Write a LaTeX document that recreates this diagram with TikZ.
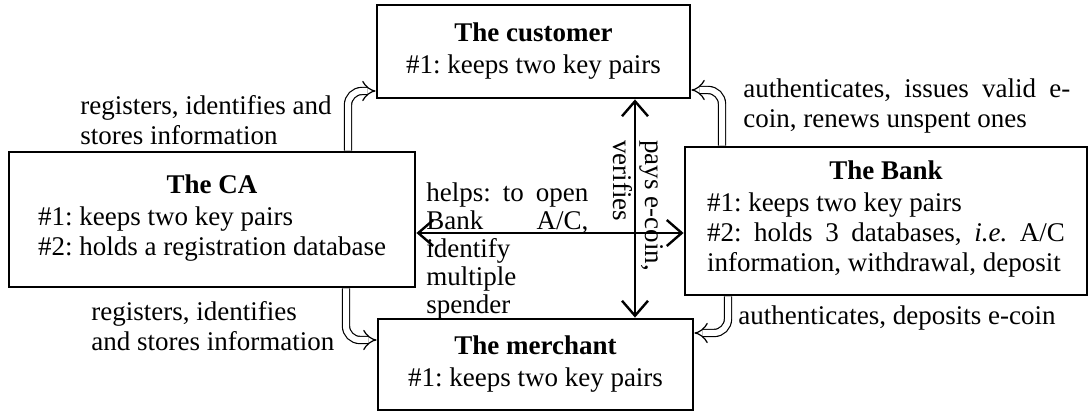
\documentclass[tikz,border=0pt]{standalone}
\usepackage{fontspec}
\setmainfont{Liberation Serif}
\frenchspacing
\usetikzlibrary{
	arrows.meta,
	calc,
	positioning
}

\tikzset{
	agent/.style={draw, line width=1.4pt, inner sep=0pt, align=center},
	regarrow/.style={double, double distance=3pt, line width=0.6pt, rounded corners=7pt, -{Implies[length=5pt,width=11pt]}},
	payarrow/.style={line width=1.2pt, {Straight Barb[length=7.5pt,width=13pt]}-{Straight Barb[length=7.5pt,width=13pt]}},
	note/.style={inner sep=0pt, align=left, anchor=base west}
}

\begin{document}
\begin{tikzpicture}[x=0.5pt,y=-0.5pt,font=\fontsize{13.5}{15}\selectfont]
		\useasboundingbox (0,0) rectangle (1089,416);
		
		% 四个参与方
		\node[agent, minimum width=156.5pt, minimum height=46.5pt] (cust) at (533.5,51.5)
			{\textbf{The customer}\\[1pt] \#1: keeps two key pairs};
		\node[agent, minimum width=203pt, minimum height=67.5pt] (ca) at (212,219.5)
			{\textbf{The CA}\\[1pt] \begin{tabular}[t]{@{}l@{}}\#1: keeps two key pairs\\ \#2: holds a registration database\end{tabular}};
		\node[agent, minimum width=201pt, minimum height=74pt] (bank) at (886,221)
			{\textbf{The Bank}\\[1pt] \begin{tabular}[t]{@{}l@{}}\#1: keeps two key pairs\\ \makebox[179pt][s]{\#2: holds 3 databases, \textit{i.e.} A/C}\\ information, withdrawal, deposit\end{tabular}};
		\node[agent, minimum width=157.5pt, minimum height=45.5pt] (merch) at (535.5,364.5)
			{\textbf{The merchant}\\[1pt] \#1: keeps two key pairs};
		
		% 转折点
		\coordinate (cc) at (348,91);
		\coordinate (bc) at (722,90);
		\coordinate (cm) at (346,340);
		\coordinate (bm) at (728,333);
		
		% 空心箭头
		\draw[regarrow] (ca.north -| cc) |- (cust.west |- cc);
		\draw[regarrow] (bank.north -| bc) |- (cust.east |- bc);
		\draw[regarrow] (ca.south -| cm) |- (merch.west |- cm);
		\draw[regarrow] (bank.south -| bm) |- (merch.east |- bm);
		
		% 双向箭头
		\coordinate (vx) at (635,0);
		\coordinate (hy) at (0,233);
		\draw[payarrow] (cust.south -| vx) -- (merch.north -| vx);
		\draw[payarrow] (ca.east |- hy) -- (bank.west |- hy);
		
		% 说明文字（锚点取最后一行基线）
		\node[note] (regcust) at (80,145) {registers, identifies and\\ stores information};
		\node[note] (issue) at (743,128) {\makebox[163.5pt][s]{authenticates, issues valid e-}\\ coin, renews unspent ones};
		\node[note] (regmerch) at (91,351) {registers, identifies\\ and stores information};
		\node[note] (deposit) at (738,325) {authenticates, deposits e-coin};
		\node[note, font=\fontsize{13.5}{14}\selectfont] (helps) at (426,314)
			{\makebox[81pt][s]{helps: to open}\\ \makebox[81pt][s]{Bank A/C,}\\ identify\\ multiple\\ spender};
		\node[note, rotate=-90] (pays) at (613,140) {pays e-coin,\\[1pt] verifies};
	\end{tikzpicture}
\end{document}
